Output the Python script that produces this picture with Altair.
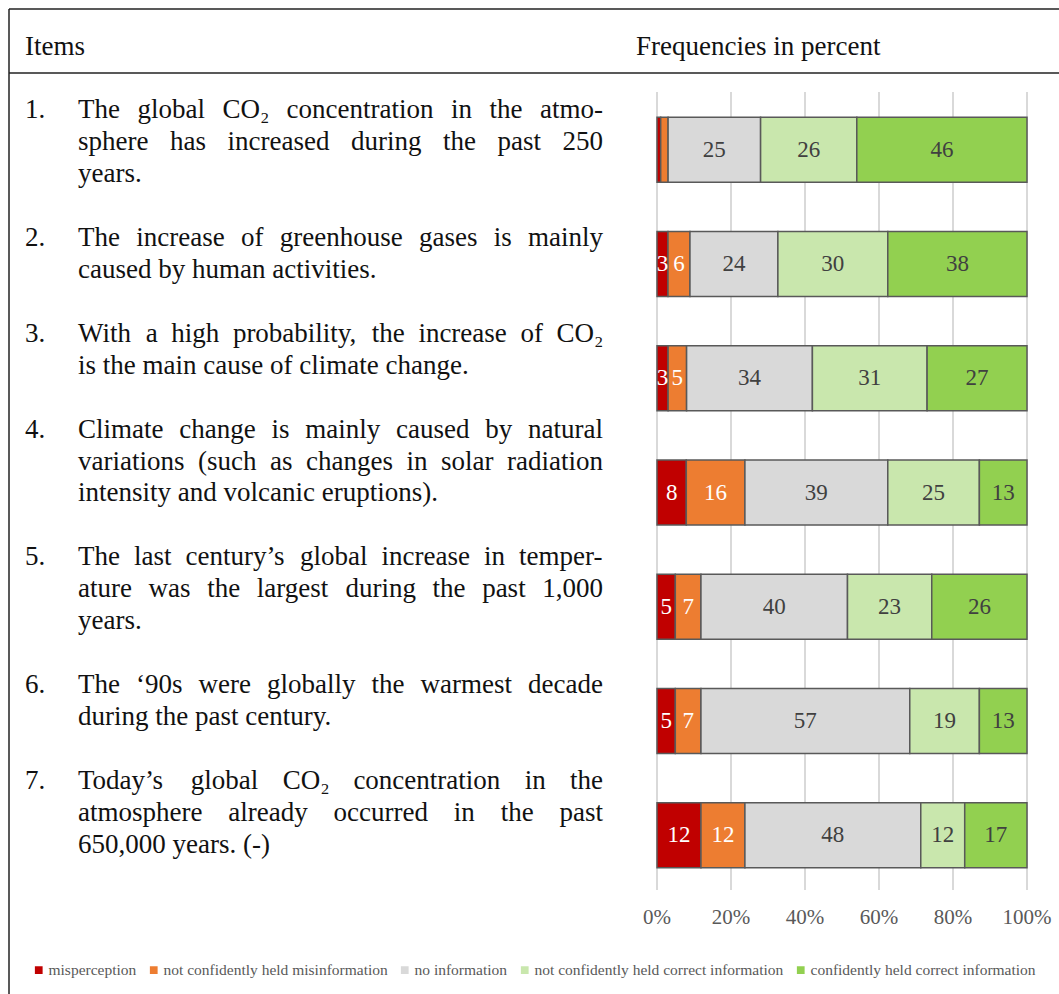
import altair as alt
import pandas as pd

items = ["1", "2", "3", "4", "5", "6", "7"]
categories = [
    "misperception",
    "not confidently held misinformation",
    "no information",
    "not confidently held correct information",
    "confidently held correct information",
]
misperception = [1, 3, 3, 8, 5, 5, 12]
not_conf_mis = [2, 6, 5, 16, 7, 7, 12]
no_info = [25, 24, 34, 39, 40, 57, 48]
not_conf_correct = [26, 30, 31, 25, 23, 19, 12]
conf_correct = [46, 38, 27, 13, 26, 13, 17]
colors = ["#c00000", "#ed7d31", "#d9d9d9", "#c9e7ad", "#92d050"]

tick_values = [0, 0.2, 0.4, 0.6, 0.8, 1.0]
tick_labels = ["0%", "20%", "40%", "60%", "80%", "100%"]

item_texts = [
    ["The global CO\u2082 concentration in the atmo-",
     "sphere has increased during the past 250",
     "years."],
    ["The increase of greenhouse gases is mainly",
     "caused by human activities."],
    ["With a high probability, the increase of CO\u2082",
     "is the main cause of climate change."],
    ["Climate change is mainly caused by natural",
     "variations (such as changes in solar radiation",
     "intensity and volcanic eruptions)."],
    ["The last century\u2019s global increase in temper-",
     "ature was the largest during the past 1,000",
     "years."],
    ["The \u201890s were globally the warmest decade",
     "during the past century."],
    ["Today\u2019s global CO\u2082 concentration in the",
     "atmosphere already occurred in the past",
     "650,000 years. (-)"],
]

# ---- layout helpers: approximate Times/Liberation Serif advance widths (per 1000 em) ----
GLYPH_W = {
    " ": 250, "!": 333, "(": 333, ")": 333, ",": 250, "-": 333, ".": 250,
    "\u2019": 333, "\u2018": 333, "\u2082": 330,
    "A": 722, "C": 667, "O": 722, "T": 611, "W": 944, "I": 333,
    "a": 444, "b": 500, "c": 444, "d": 500, "e": 444, "f": 333, "g": 500,
    "h": 500, "i": 278, "j": 278, "k": 500, "l": 278, "m": 778, "n": 500,
    "o": 500, "p": 500, "q": 500, "r": 333, "s": 389, "t": 278, "u": 500,
    "v": 500, "w": 722, "x": 500, "y": 500, "z": 444,
}
for d in "0123456789":
    GLYPH_W[d] = 500


def text_w(s, size):
    return sum(GLYPH_W.get(ch, 500) for ch in s) * size / 1000.0


TEXT_SIZE = 27
TEXT_LEFT = 78
TEXT_RIGHT = 603

# ---- tables built from the arrays ----
series = [misperception, not_conf_mis, no_info, not_conf_correct, conf_correct]
rows = []
for ci, (cat, vals) in enumerate(zip(categories, series)):
    for it, v in zip(items, vals):
        rows.append({"item": it, "cat": cat, "order": ci, "value": v})
bars_df = pd.DataFrame(rows)

word_rows = []
num_rows = []
r = 0
for i, lines in enumerate(item_texts):
    for j, ln in enumerate(lines):
        if j == 0:
            num_rows.append({"row": r, "num": f"{i+1}."})
        words = ln.split(" ")
        widths = [text_w(w, TEXT_SIZE) for w in words]
        last = (j == len(lines) - 1)
        if last or len(words) == 1:
            gap = text_w(" ", TEXT_SIZE)
        else:
            gap = (TEXT_RIGHT - TEXT_LEFT - sum(widths)) / (len(words) - 1)
        x = TEXT_LEFT
        for w, wd in zip(words, widths):
            word_rows.append({"row": r, "px": x, "word": w})
            x += wd + gap
        r += 1
    r += 1  # blank line between items
words_df = pd.DataFrame(word_rows)
nums_df = pd.DataFrame(num_rows)
n_rows = r - 2

ticks_df = pd.DataFrame({"t": tick_values, "label": tick_labels})

SERIF = "Liberation Serif"
xscale = alt.Scale(domain=[0, 1], range=[657, 1027], nice=False, zero=False)
yband = alt.Scale(domain=items, range=[60, 925], paddingInner=0.43, paddingOuter=0.5)
yline = alt.Scale(domain=[0, n_rows], range=[110, 845])
xpix = alt.Scale(domain=[0, 1059], range=[0, 1059], nice=False, zero=False)

one = pd.DataFrame({"a": [0]})

# frame lines
frame_top = alt.Chart(one).mark_rule(color="#222", strokeWidth=1.5).encode(
    x=alt.value(9), x2=alt.value(1059), y=alt.value(9))
frame_head = alt.Chart(one).mark_rule(color="#222", strokeWidth=1.5).encode(
    x=alt.value(9), x2=alt.value(1059), y=alt.value(73))
frame_left = alt.Chart(one).mark_rule(color="#222", strokeWidth=1.5).encode(
    x=alt.value(9), y=alt.value(9), y2=alt.value(994))

head_items = alt.Chart(one).mark_text(
    text="Items", font=SERIF, fontSize=27, align="left", baseline="middle", color="#111"
).encode(x=alt.value(25), y=alt.value(47))
head_freq = alt.Chart(one).mark_text(
    text="Frequencies in percent", font=SERIF, fontSize=27, align="left", baseline="middle", color="#111"
).encode(x=alt.value(636), y=alt.value(47))

# gridlines
grid = alt.Chart(ticks_df).mark_rule(color="#d9d9d9", strokeWidth=2).encode(
    x=alt.X("t:Q", scale=xscale, axis=None),
    y=alt.value(92), y2=alt.value(890))

tick_text = alt.Chart(ticks_df).mark_text(
    font=SERIF, fontSize=21, color="#595959", baseline="middle"
).encode(x=alt.X("t:Q", scale=xscale, axis=None), y=alt.value(918), text="label:N")

stacked = alt.Chart(bars_df).transform_stack(
    stack="value", groupby=["item"], sort=[alt.SortField("order", order="ascending")],
    as_=["v0", "v1"], offset="normalize"
)

bars = stacked.mark_bar(stroke="#595959", strokeWidth=1.5).encode(
    x=alt.X("v0:Q", scale=xscale, axis=None),
    x2="v1:Q",
    y=alt.Y("item:N", scale=yband, axis=None),
    color=alt.Color(
        "cat:N",
        scale=alt.Scale(domain=categories, range=colors),
        legend=alt.Legend(
            orient="none", legendX=31, legendY=962, direction="horizontal",
            title=None, symbolType="square", symbolSize=60, symbolStrokeWidth=0,
            labelFont=SERIF, labelFontSize=15.5, labelColor="#595959",
            labelLimit=0, columnPadding=9, labelOffset=2, padding=0,
        ),
    ),
    order=alt.Order("order:Q"),
)

bar_labels = stacked.transform_filter("datum.value >= 3").transform_calculate(
    mid="(datum.v0 + datum.v1) / 2"
).mark_text(font=SERIF, fontSize=23, baseline="middle").encode(
    x=alt.X("mid:Q", scale=xscale, axis=None),
    y=alt.Y("item:N", scale=yband, axis=None),
    text="value:Q",
    color=alt.condition("datum.order < 2", alt.value("white"), alt.value("#404040")),
)

nums = alt.Chart(nums_df).mark_text(
    font=SERIF, fontSize=TEXT_SIZE, align="left", baseline="middle", color="#111"
).encode(x=alt.value(25), y=alt.Y("row:Q", scale=yline, axis=None), text="num:N")
texts = alt.Chart(words_df).mark_text(
    font=SERIF, fontSize=TEXT_SIZE, align="left", baseline="middle", color="#111"
).encode(
    x=alt.X("px:Q", scale=xpix, axis=None),
    y=alt.Y("row:Q", scale=yline, axis=None),
    text="word:N",
)

bar_part = alt.layer(grid, tick_text, bars, bar_labels)
text_part = alt.layer(nums, texts)

chart = alt.layer(
    frame_top, frame_head, frame_left, head_items, head_freq, bar_part, text_part
).resolve_scale(x="independent", y="independent", color="independent").properties(
    width=1059, height=994, padding=0, autosize=alt.AutoSizeParams(type="none"),
    background="white",
).configure_view(strokeWidth=0)

chart.save("out.html", embed_options={"renderer": "svg", "actions": False})
